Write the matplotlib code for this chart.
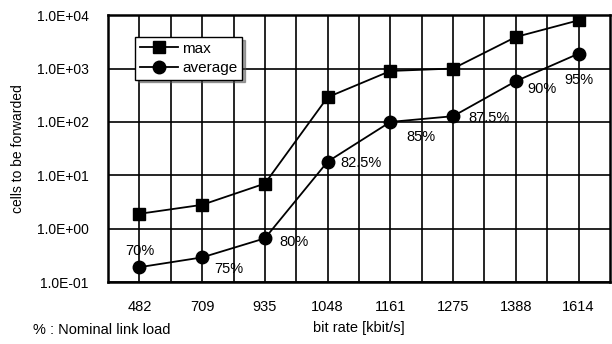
import matplotlib
matplotlib.use('Agg')
import matplotlib.pyplot as plt
import numpy as np
from matplotlib.ticker import FixedLocator, NullFormatter

plt.rcParams['font.family'] = ['Liberation Sans', 'DejaVu Sans']

bit_rates = ['482', '709', '935', '1048', '1161', '1275', '1388', '1614']
max_cells = [1.9, 2.8, 7.0, 290, 900, 1000, 3900, 8000]
avg_cells = [0.19, 0.29, 0.66, 18, 100, 128, 580, 1900]
link_load = ['70%', '75%', '80%', '82.5%', '85%', '87.5%', '90%', '95%']

# label offsets (points) relative to the average markers
label_offsets = [(0, 12), (19, -8), (21, -3), (24, -1), (22, -11), (26, -1), (19, -6), (0, -19)]

fig = plt.figure(figsize=(6.12, 3.44), dpi=100)
ax = fig.add_axes([0.1765, 0.180, 0.8202, 0.776])

x = np.arange(len(bit_rates))
ax.plot(x, max_cells, color='black', lw=1.3, marker='s', ms=9, label='max')
ax.plot(x, avg_cells, color='black', lw=1.3, marker='o', ms=9, label='average')

for xi, yi, lab, off in zip(x, avg_cells, link_load, label_offsets):
    ax.annotate(lab, (xi, yi), xytext=off, textcoords='offset points',
                ha='center', va='center', fontsize=10.5)

ax.set_yscale('log')
ax.set_ylim(0.1, 1e4)
ax.set_xlim(-0.5, len(bit_rates) - 0.5)
ax.set_yticks([0.1, 1, 10, 100, 1000, 10000])
ax.set_yticklabels(['1.0E-01', '1.0E+00', '1.0E+01', '1.0E+02', '1.0E+03', '1.0E+04'])
ax.yaxis.set_minor_formatter(NullFormatter())
ax.yaxis.set_minor_locator(FixedLocator([]))
ax.set_xticks(x)
ax.set_xticklabels(bit_rates)
ax.xaxis.set_minor_locator(FixedLocator(x[:-1] + 0.5))

ax.grid(True, which='major', color='black', lw=1.2)
ax.grid(True, which='minor', axis='x', color='black', lw=1.2)
ax.tick_params(which='both', length=0)
ax.tick_params(axis='x', pad=13, labelsize=10.5)
ax.tick_params(axis='y', pad=14, labelsize=10)
for sp in ax.spines.values():
    sp.set_linewidth(1.8)

ax.set_ylabel('cells to be forwarded', fontsize=10, labelpad=8)
ax.set_xlabel('bit rate [kbit/s]', fontsize=10.5, labelpad=5)

leg = ax.legend(loc='upper left', bbox_to_anchor=(0.054, 0.918), fancybox=False,
                shadow=True, edgecolor='black', fontsize=11, handlelength=2.5,
                borderpad=0.3, labelspacing=0.35, handletextpad=0.3,
                borderaxespad=0)
leg.get_frame().set_linewidth(1.0)

fig.text(0.054, 0.04, '% : Nominal link load', fontsize=10.5, ha='left', va='center')

fig.savefig('out.png', dpi=100)
